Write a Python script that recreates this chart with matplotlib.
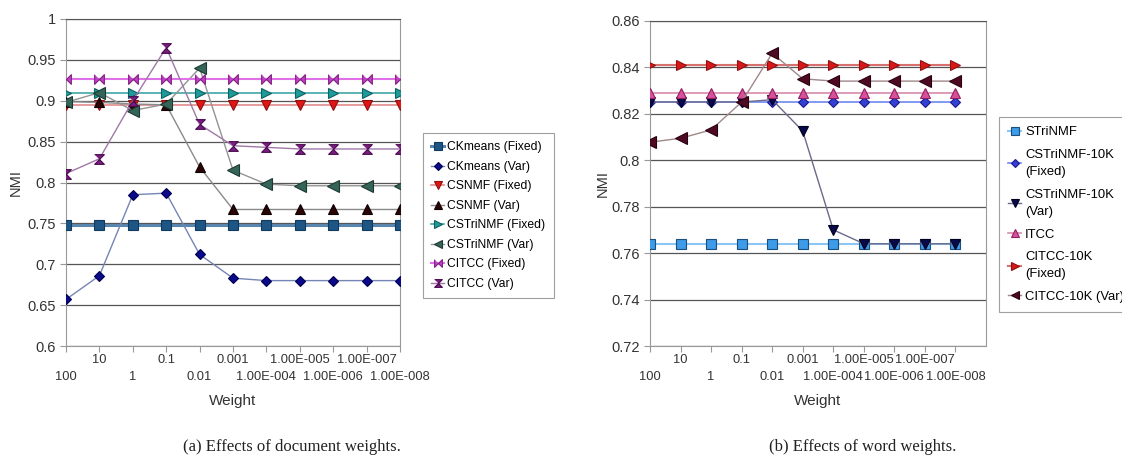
import numpy as np
import matplotlib
matplotlib.use('Agg')
import matplotlib.pyplot as plt

plt.rcParams['font.family'] = ['Liberation Sans', 'DejaVu Sans']

weights = ['100', '10', '1', '0.1', '0.01', '0.001', '1.00E-004', '1.00E-005',
           '1.00E-006', '1.00E-007', '1.00E-008']

# (a) document weights
ckmeans_fixed = [0.748] * 11
ckmeans_var = [0.657, 0.686, 0.785, 0.787, 0.712, 0.683, 0.680, 0.680, 0.680, 0.680, 0.680]
csnmf_fixed = [0.895] * 11
csnmf_var = [0.899, 0.898, 0.896, 0.895, 0.819, 0.767, 0.767, 0.767, 0.767, 0.767, 0.767]
cstrinmf_fixed = [0.910] * 11
cstrinmf_var = [0.898, 0.910, 0.888, 0.896, 0.940, 0.815, 0.798, 0.796, 0.796, 0.796, 0.796]
citcc_fixed = [0.926] * 11
citcc_var = [0.811, 0.829, 0.900, 0.965, 0.871, 0.845, 0.843, 0.841, 0.841, 0.841, 0.841]

# (b) word weights
strinmf = [0.764] * 11
cstrinmf10k_fixed = [0.825] * 11
cstrinmf10k_var = [0.825, 0.825, 0.825, 0.825, 0.826, 0.8125, 0.770, 0.764, 0.764, 0.764, 0.764]
itcc = [0.829] * 11
citcc10k_fixed = [0.841] * 11
citcc10k_var = [0.8077, 0.8094, 0.813, 0.825, 0.846, 0.835, 0.834, 0.834, 0.834, 0.834, 0.834]

bowtie = [(-1, 1), (-1, -1), (0, 0), (1, 1), (1, -1), (0, 0)]
hourglass = [(-1, 1), (1, 1), (0, 0), (-1, -1), (1, -1), (0, 0)]

x = np.arange(len(weights))

fig = plt.figure(figsize=(11.22, 4.63), dpi=100, facecolor='white')
ax1 = fig.add_axes([66/1122, 1-346/463, (400-66)/1122, (346-19)/463])
ax2 = fig.add_axes([650/1122, 1-346/463, (986-650)/1122, (346-20.7)/463])

series_a = [
    ('CKmeans (Fixed)', ckmeans_fixed, 's', '#1d5585', '#5a86ad', '#123a5c', 7.5, 2.2),
    ('CKmeans (Var)', ckmeans_var, 'D', '#0a0a8a', '#7585b5', '#000050', 5.5, 1),
    ('CSNMF (Fixed)', csnmf_fixed, 'v', '#e01515', '#e08a8a', '#901010', 7.5, 1.2),
    ('CSNMF (Var)', csnmf_var, '^', '#2a0505', '#8a8a8a', '#100000', 7, 1),
    ('CSTriNMF (Fixed)', cstrinmf_fixed, '>', '#1f9a9a', '#3fa5a5', '#106060', 7.5, 1.2),
    ('CSTriNMF (Var)', cstrinmf_var, '<', '#356558', '#949494', '#1c3a32', 8, 1),
    ('CITCC (Fixed)', citcc_fixed, bowtie, '#c040c8', '#e070e8', '#802080', 7, 1.5),
    ('CITCC (Var)', citcc_var, hourglass, '#7a1f80', '#a078a8', '#4a0a50', 7, 1),
]
series_b = [
    ('STriNMF', strinmf, 's', '#3d9be8', '#8cc6f5', '#1a4f80', 7.5, 1.5),
    ('CSTriNMF-10K\n(Fixed)', cstrinmf10k_fixed, 'D', '#3340d0', '#6f86f0', '#1a1a90', 5.5, 1.2),
    ('CSTriNMF-10K\n(Var)', cstrinmf10k_var, 'v', '#0a0a4a', '#6a6a8a', '#000020', 7.5, 1),
    ('ITCC', itcc, '^', '#d8509a', '#d98aac', '#902060', 7.5, 1.2),
    ('CITCC-10K\n(Fixed)', citcc10k_fixed, '>', '#d81818', '#d87070', '#901010', 7.5, 1.5),
    ('CITCC-10K (Var)', citcc10k_var, '<', '#4e0a22', '#a08888', '#2a0010', 8, 1),
]


def draw(ax, series, ylim, step, xmax):
    for name, vals, mk, mc, lc, ec, ms, lw in series:
        ax.plot(x, vals, color=lc, lw=lw, marker=mk, markersize=ms,
                markerfacecolor=mc, markeredgecolor=ec, markeredgewidth=0.8,
                label=name, zorder=3)
    ax.set_xlim(0, xmax)
    ax.set_ylim(*ylim)
    ticks = np.round(np.arange(ylim[0], ylim[1] + step / 2, step), 3)
    ax.set_yticks(ticks)
    ax.set_yticklabels([('%g' % t) for t in ticks])
    # two label rows: even categories below, odd ones above
    ax.set_xticks(x[::2])
    ax.set_xticklabels(weights[::2])
    ax.set_xticks(x[1::2], minor=True)
    ax.set_xticklabels(weights[1::2], minor=True)
    ax.yaxis.grid(True, color='#555555', lw=0.9)
    ax.set_axisbelow(True)
    for s in ['left', 'right', 'bottom']:
        ax.spines[s].set_color('#999999')
    ax.spines['top'].set_color('#555555')
    ax.tick_params(axis='both', which='both', colors='#999999', labelcolor='#333333',
                   labelsize=10.5, length=4, width=0.8)
    ax.tick_params(axis='x', which='major', pad=14, labelsize=9.3)
    ax.tick_params(axis='x', which='minor', pad=2, labelsize=9.3)
    ax.set_ylabel('NMI', fontsize=10.5, color='#333333')
    ax.set_xlabel('Weight', fontsize=11, color='#333333', labelpad=8)


draw(ax1, series_a, (0.6, 1.0), 0.05, 10)
draw(ax2, series_b, (0.72, 0.86), 0.02, 11)
ax1.yaxis.set_label_coords(-0.13, 0.5)
ax2.yaxis.set_label_coords(-0.12, 0.5)

leg_kw = dict(frameon=True, fancybox=False, handlelength=1.0, borderaxespad=0,
              handletextpad=0.3, borderpad=0.7, markerscale=0.8)
l1 = fig.legend(handles=ax1.get_lines(), loc='upper left', fontsize=8.7,
                labelspacing=0.62, bbox_to_anchor=(423/1122, 1-133/463), **leg_kw)
l2 = fig.legend(handles=ax2.get_lines(), loc='upper left', fontsize=9.4,
                labelspacing=0.8, bbox_to_anchor=(999/1122, 1-117/463), **leg_kw)
for t in l2.get_texts():
    t.set_linespacing(1.6)
for l in (l1, l2):
    l.get_frame().set_edgecolor('#888888')
    l.get_frame().set_linewidth(0.8)

fig.text(292/1122, 1-447/463, '(a) Effects of document weights.', ha='center', va='center',
         family='Liberation Serif', fontsize=12, color='#222222')
fig.text(863/1122, 1-447/463, '(b) Effects of word weights.', ha='center', va='center',
         family='Liberation Serif', fontsize=12, color='#222222')

plt.savefig('out.png', dpi=100, facecolor='white')
